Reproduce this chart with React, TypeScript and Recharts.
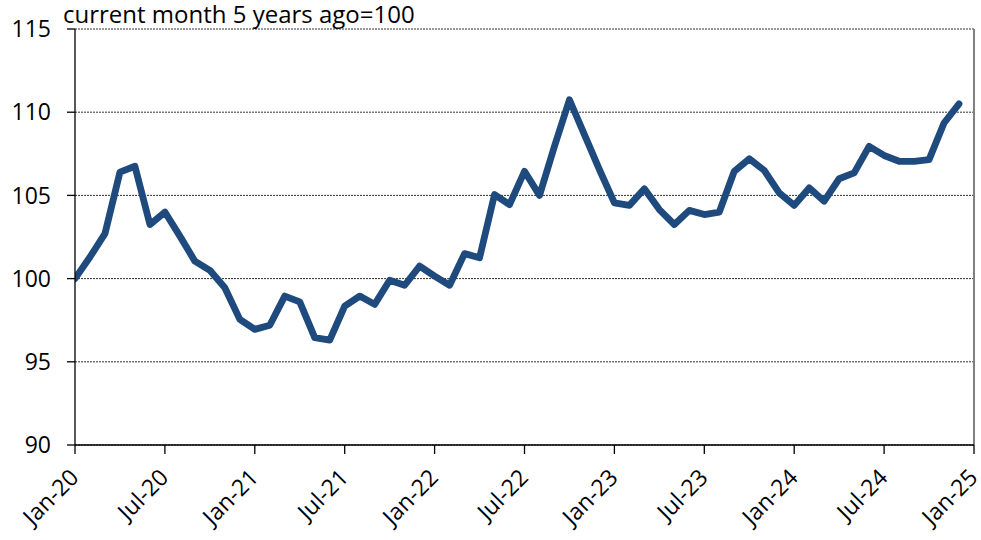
import React from "react";
import { LineChart, Line, XAxis, YAxis, CartesianGrid, ReferenceLine } from "recharts";

const monthsIndex: number[] = Array.from({ length: 60 }, (_, i) => i);
const indexValues: number[] = [
  100.0, 101.3, 102.7, 106.4, 106.75, 103.25, 104.0, 102.55, 101.05, 100.5,
  99.45, 97.55, 96.95, 97.2, 98.95, 98.6, 96.45, 96.3, 98.35, 98.95,
  98.45, 99.9, 99.6, 100.75, 100.15, 99.6, 101.5, 101.25, 105.05, 104.45,
  106.45, 105.0, 107.95, 110.75, 108.65, 106.55, 104.55, 104.4, 105.4, 104.15,
  103.25, 104.1, 103.85, 104.0, 106.45, 107.2, 106.5, 105.15, 104.4, 105.45,
  104.65, 106.0, 106.35, 107.95, 107.4, 107.05, 107.05, 107.15, 109.35, 110.5,
];
const xTickPositions: number[] = [0, 6, 12, 18, 24, 30, 36, 42, 48, 54, 60];
const xTickLabels: string[] = [
  "Jan-20", "Jul-20", "Jan-21", "Jul-21", "Jan-22", "Jul-22",
  "Jan-23", "Jul-23", "Jan-24", "Jul-24", "Jan-25",
];
const yTicks: number[] = [90, 95, 100, 105, 110, 115];
const titleText = "current month 5 years ago=100";

const data = monthsIndex.map((m, i) => ({ m, v: indexValues[i] }));

const FONT = "'Open Sans', sans-serif";

const XTick = (props: any) => {
  const { x, y, payload } = props;
  const idx = xTickPositions.indexOf(payload.value);
  const label = idx >= 0 ? xTickLabels[idx] : "";
  const ax = x + 5;
  const ay = y + 23;
  return (
    <text
      x={ax}
      y={ay}
      textAnchor="end"
      fontFamily={FONT}
      fontSize={23}
      fill="#000"
      transform={`rotate(-45, ${ax}, ${ay})`}
    >
      {label}
    </text>
  );
};

export default function App() {
  return (
    <div style={{ position: "absolute", left: 0, top: 0, width: 981, height: 540, background: "#fff" }}>
      <LineChart
        width={981}
        height={540}
        data={data}
        margin={{ top: 29, right: 7, bottom: 0, left: 0 }}
      >
        <CartesianGrid
          horizontal={true}
          vertical={false}
          stroke="#333"
          strokeDasharray="2 1"
        />
        <XAxis
          dataKey="m"
          type="number"
          domain={[0, 60]}
          ticks={xTickPositions}
          interval={0}
          height={95}
          tickSize={9}
          tickMargin={2}
          axisLine={{ stroke: "#000", strokeWidth: 1.3 }}
          tickLine={{ stroke: "#000", strokeWidth: 1.3 }}
          tick={<XTick />}
          allowDataOverflow
        />
        <YAxis
          type="number"
          domain={[90, 115]}
          ticks={yTicks}
          interval={0}
          width={75}
          tickSize={8}
          tickMargin={16}
          axisLine={{ stroke: "#000", strokeWidth: 1.3 }}
          tickLine={{ stroke: "#000", strokeWidth: 1.3 }}
          tick={{ fill: "#000", fontSize: 23, fontFamily: FONT }}
          allowDataOverflow
        />
        <ReferenceLine x={60} stroke="#808080" strokeWidth={2} />
        <Line
          type="linear"
          dataKey="v"
          stroke="#1F4A7D"
          strokeWidth={6.8}
          dot={false}
          activeDot={false}
          strokeLinejoin="round"
          strokeLinecap="round"
          isAnimationActive={false}
        />
      </LineChart>
      <svg
        width={981}
        height={40}
        style={{ position: "absolute", left: 0, top: 0, pointerEvents: "none" }}
      >
        <text x={63} y={23} fontFamily={FONT} fontSize={24} fill="#000">
          {titleText}
        </text>
      </svg>
    </div>
  );
}
